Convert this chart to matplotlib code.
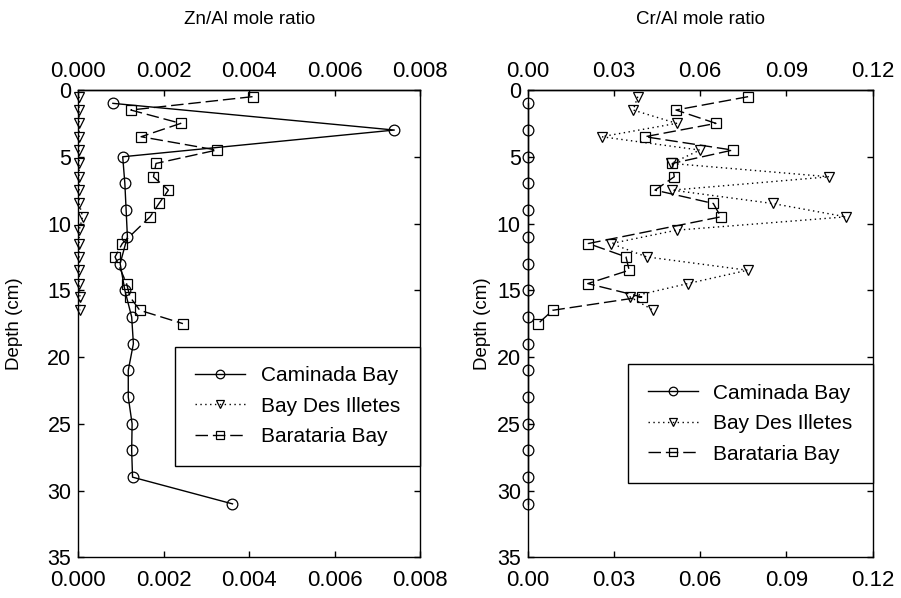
import matplotlib.pyplot as plt
import numpy as np
from matplotlib.ticker import FormatStrFormatter

plt.rcParams['font.family'] = ['Liberation Sans', 'DejaVu Sans']

# Depths (cm) for each core
cam_depth = [1, 3, 5, 7, 9, 11, 13, 15, 17, 19, 21, 23, 25, 27, 29, 31]
ill_depth = [0.5, 1.5, 2.5, 3.5, 4.5, 5.5, 6.5, 7.5, 8.5, 9.5, 10.5, 11.5,
             12.5, 13.5, 14.5, 15.5, 16.5]
bar_zn_depth = [0.5, 1.5, 2.5, 3.5, 4.5, 5.5, 6.5, 7.5, 8.5, 9.5, 11.5, 12.5,
                14.5, 15.5, 16.5, 17.5]
bar_cr_depth = [0.5, 1.5, 2.5, 3.5, 4.5, 5.5, 6.5, 7.5, 8.5, 9.5, 11.5, 12.5,
                13.5, 14.5, 15.5, 16.5, 17.5]

# Zn/Al mole ratio
cam_zn = [0.00081, 0.0074, 0.00104, 0.00109, 0.00112, 0.00115, 0.00098, 0.00109,
          0.00125, 0.00129, 0.00117, 0.00117, 0.00126, 0.00125, 0.00127, 0.00361]
ill_zn = [0.00002, 0.00002, 0.00002, 0.00002, 0.00002, 0.00002, 0.00002, 0.00002,
          0.00002, 0.0001, 0.00002, 0.00002, 0.00002, 0.00002, 0.00002, 0.00004,
          0.00004]
bar_zn = [0.00408, 0.00123, 0.0024, 0.00147, 0.00324, 0.00182, 0.00176, 0.00211,
          0.00189, 0.00168, 0.00103, 0.00086, 0.00113, 0.00121, 0.00144, 0.00245]

# Cr/Al mole ratio
cam_cr = [0.0, 0.0, 0.0, 0.0, 0.0, 0.0, 0.0, 0.0,
          0.0, 0.0, 0.0, 0.0, 0.0, 0.0, 0.0, 0.0]
ill_cr = [0.0383, 0.0367, 0.0518, 0.0257, 0.0599, 0.050, 0.1049, 0.0503, 0.0852,
          0.1107, 0.0518, 0.0290, 0.0414, 0.0765, 0.0557, 0.0356, 0.0437]
bar_cr = [0.0767, 0.0516, 0.0655, 0.0408, 0.0713, 0.0503, 0.0510, 0.0443, 0.0646,
          0.0672, 0.0211, 0.0342, 0.0353, 0.0209, 0.0397, 0.0087, 0.0036]

labels = ["Caminada Bay", "Bay Des Illetes", "Barataria Bay"]
zn_ticks = [0.000, 0.002, 0.004, 0.006, 0.008]
cr_ticks = [0.00, 0.03, 0.06, 0.09, 0.12]
depth_ticks = [0, 5, 10, 15, 20, 25, 30, 35]

fig = plt.figure(figsize=(9.01, 5.98), dpi=100)
ax1 = fig.add_axes([0.0869, 0.0681, 0.3792, 0.7814])
ax2 = fig.add_axes([0.5857, 0.0681, 0.3827, 0.7814])

styles = [
    dict(ls='-', marker='o', ms=7.7),
    dict(ls=(0, (1, 2.5)), marker='v', ms=7.2),
    dict(ls=(0, (9, 3.5)), marker='s', ms=6.8),
]


def draw_panel(ax, xs, ys, xticks, fmt, leg_y):
    for x, y, st, lab in zip(xs, ys, styles, labels):
        ax.plot(x, y, color='black', lw=1.0, mfc='none', mec='black', mew=0.9,
                clip_on=False, label=lab, **st)
    ax.set_xlim(xticks[0], xticks[-1])
    ax.set_ylim(35, 0)
    ax.set_xticks(xticks)
    ax.set_yticks(depth_ticks)
    ax.xaxis.set_major_formatter(FormatStrFormatter(fmt))
    ax.tick_params(direction='in', length=4, width=1, right=True, top=False)
    ax.tick_params(axis='x', pad=9, labelsize=16)
    ax.tick_params(axis='y', pad=5, labelsize=15.5)
    for sp in ax.spines.values():
        sp.set_linewidth(1.0)
    sec = ax.secondary_xaxis('top')
    sec.set_xticks(xticks)
    sec.xaxis.set_major_formatter(FormatStrFormatter(fmt))
    sec.tick_params(direction='in', length=4, width=1, labelsize=16, pad=5.5)
    sec.spines['top'].set_linewidth(1.0)
    leg = ax.legend(loc='upper right', bbox_to_anchor=(1.0, leg_y),
                    borderaxespad=0, fancybox=False, edgecolor='black',
                    framealpha=1, fontsize=15, handlelength=2.4,
                    handletextpad=0.75, labelspacing=0.55, borderpad=0.95,
                    markerscale=0.8)
    leg.get_frame().set_linewidth(1.0)


draw_panel(ax1, [cam_zn, ill_zn, bar_zn], [cam_depth, ill_depth, bar_zn_depth],
           zn_ticks, '%.3f', 0.451)
draw_panel(ax2, [cam_cr, ill_cr, bar_cr], [cam_depth, ill_depth, bar_cr_depth],
           cr_ticks, '%.2f', 0.414)

fig.text(0.2766, 0.9666, "Zn/Al mole ratio", ha='center', va='center', fontsize=13.5)
fig.text(0.7770, 0.9666, "Cr/Al mole ratio", ha='center', va='center', fontsize=13.5)
fig.text(0.0166, 0.459, "Depth (cm)", ha='center', va='center', rotation=90, fontsize=13.5)
fig.text(0.5350, 0.459, "Depth (cm)", ha='center', va='center', rotation=90, fontsize=13.5)

fig.savefig("out.png", dpi=100)
